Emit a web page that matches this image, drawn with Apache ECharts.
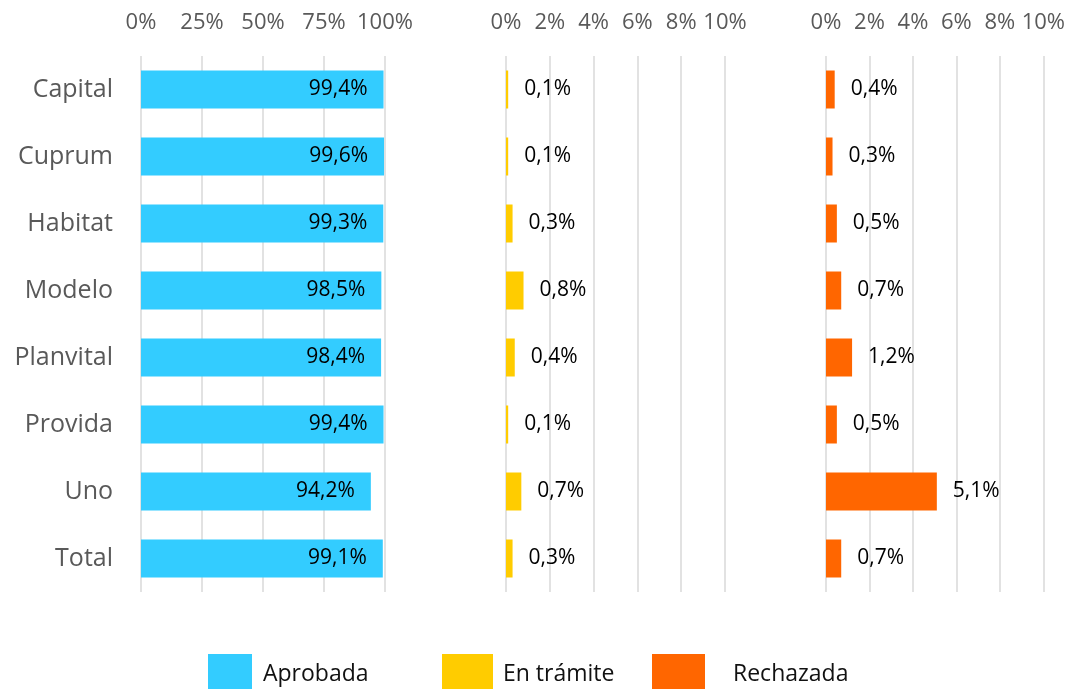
<!DOCTYPE html>
<html>
<head>
<meta charset="utf-8">
<title></title>
<script src="https://cdn.jsdelivr.net/npm/echarts@6/dist/echarts.min.js"></script>
<style type="text/css">
  * {margin: 0; padding: 0;}
  body {background: #fff;}
</style>
</head>
<body>
<div id="chart" style="width:1068px;height:689px"></div>
<script type="text/javascript">
var categories = ['Capital', 'Cuprum', 'Habitat', 'Modelo', 'Planvital', 'Provida', 'Uno', 'Total'];
var aprobada = [99.4, 99.6, 99.3, 98.5, 98.4, 99.4, 94.2, 99.1];
var tramite = [0.1, 0.1, 0.3, 0.8, 0.4, 0.1, 0.7, 0.3];
var rechazada = [0.4, 0.3, 0.5, 0.7, 1.2, 0.5, 5.1, 0.7];

var FONT = 'Open Sans';
var grayText = '#595959';

var chart = echarts.init(document.getElementById('chart'));

function pct(p) {
  return p.value.toFixed(1).replace('.', ',') + '%';
}

function valueAxis(idx, max, step) {
  return {
    type: 'value', gridIndex: idx, position: 'top',
    min: 0, max: max, interval: step,
    axisLine: {show: false}, axisTick: {show: false},
    axisLabel: {formatter: '{value}%', color: grayText, fontFamily: FONT, fontSize: 22, margin: 22},
    splitLine: {lineStyle: {color: '#d9d9d9', width: 1.5}}
  };
}

function catAxis(idx, showLabels) {
  return {
    type: 'category', gridIndex: idx, data: categories, inverse: true,
    axisLine: {show: false}, axisTick: {show: false},
    axisLabel: {show: showLabels, color: grayText, fontFamily: FONT, fontSize: 25, margin: 28,
                padding: [2, 0, 0, 0]}
  };
}

// excel legend boxes are not all the same width
function legendItem(name, left, boxW, gap) {
  return {
    data: [{name: name, icon: 'rect'}], left: left, top: 649,
    itemWidth: boxW, itemHeight: 40, itemGap: 0,
    textStyle: {fontFamily: FONT, fontSize: 23, color: '#111', padding: [6, 0, 0, gap]},
    selectedMode: false
  };
}

var option = {
  animation: false,
  grid: [
    {left: 141, top: 56, width: 244, height: 536},
    {left: 506, top: 56, width: 219, height: 536},
    {left: 826, top: 56, width: 219, height: 536}
  ],
  xAxis: [valueAxis(0, 100, 25), valueAxis(1, 10, 2), valueAxis(2, 10, 2)],
  yAxis: [catAxis(0, true), catAxis(1, false), catAxis(2, false)],
  legend: [
    legendItem('Aprobada', 203, 44, 6),
    legendItem('En trámite', 437, 51, 5),
    legendItem('Rechazada', 647, 53, 23)
  ],
  series: [
    {
      name: 'Aprobada', type: 'bar', xAxisIndex: 0, yAxisIndex: 0,
      data: aprobada, barWidth: 38, itemStyle: {color: '#33ccff'},
      label: {show: true, position: 'insideRight', distance: 16, formatter: pct,
              color: '#000', fontFamily: FONT, fontSize: 21}
    },
    {
      name: 'En trámite', type: 'bar', xAxisIndex: 1, yAxisIndex: 1,
      data: tramite, barWidth: 38, itemStyle: {color: '#ffcc00'},
      label: {show: true, position: 'right', distance: 16, formatter: pct,
              color: '#000', fontFamily: FONT, fontSize: 21}
    },
    {
      name: 'Rechazada', type: 'bar', xAxisIndex: 2, yAxisIndex: 2,
      data: rechazada, barWidth: 38, itemStyle: {color: '#ff6600'},
      label: {show: true, position: 'right', distance: 16, formatter: pct,
              color: '#000', fontFamily: FONT, fontSize: 21}
    }
  ]
};

chart.setOption(option);
</script>
</body>
</html>
